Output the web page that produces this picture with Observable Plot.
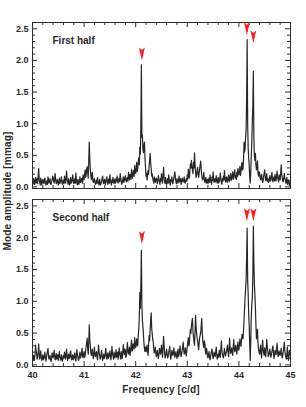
<!DOCTYPE html>
<html>
<head>
<meta charset="utf-8">
<script src="https://cdn.jsdelivr.net/npm/d3@7"></script>
<script src="https://cdn.jsdelivr.net/npm/@observablehq/plot@0.6"></script>
<style>
  html, body { margin: 0; padding: 0; background: #fff; }
  #wrap { position: relative; width: 306px; height: 407px; overflow: hidden; font-family: "Liberation Sans", Arial, sans-serif; color: #2a2a2a; }
  #p1, #p2 { position: absolute; left: 0; }
  #p1 { top: 0; }
  #p2 { top: 194px; }
  .ttl { position: absolute; white-space: nowrap; font-size: 10px; font-weight: bold; letter-spacing: 0.2px; }
  #ylab { left: 7px; top: 191px; transform: translate(-50%, -50%) rotate(-90deg); }
  #xlab { left: 161px; top: 389px; transform: translate(-50%, -50%); }
</style>
</head>
<body>
<div id="wrap">
  <div id="p1"></div>
  <div id="p2"></div>
  <div class="ttl" id="ylab">Mode amplitude [mmag]</div>
  <div class="ttl" id="xlab">Frequency [c/d]</div>
</div>
<script>
// ---- data (amplitude spectra, mmag), frequency grid 40.00 .. 45.00 c/d, step 0.01 ----
const freqStart = 40.0;
const freqStep = 0.01;

const firstHalf = [
  0.08,0.04,0.13,0.09,0.04,0.11,0.15,0.06,0.09,0.13,0.05,0.18,0.29,0.12,0.07,0.03,0.14,0.10,0.03,0.08,
  0.12,0.08,0.05,0.11,0.14,0.07,0.03,0.06,0.10,0.04,0.16,0.12,0.06,0.09,0.13,0.05,0.04,0.08,0.11,0.17,
  0.15,0.09,0.06,0.14,0.21,0.10,0.05,0.08,0.12,0.07,0.03,0.09,0.14,0.05,0.08,0.12,0.16,0.07,0.04,0.09,
  0.11,0.05,0.17,0.10,0.06,0.14,0.25,0.12,0.08,0.04,0.13,0.07,0.03,0.09,0.15,0.06,0.07,0.12,0.19,0.10,
  0.05,0.09,0.13,0.06,0.22,0.11,0.06,0.03,0.12,0.08,0.04,0.10,0.16,0.07,0.08,0.13,0.14,0.06,0.19,0.15,
  0.11,0.20,0.27,0.15,0.19,0.28,0.32,0.22,0.14,0.40,0.71,0.45,0.29,0.18,0.12,0.20,0.23,0.10,0.07,0.12,
  0.13,0.08,0.04,0.07,0.11,0.05,0.15,0.09,0.06,0.03,0.12,0.07,0.03,0.06,0.10,0.14,0.17,0.08,0.05,0.10,
  0.12,0.04,0.07,0.12,0.16,0.08,0.04,0.09,0.13,0.06,0.19,0.11,0.06,0.03,0.11,0.07,0.15,0.09,0.05,0.10,
  0.13,0.06,0.08,0.12,0.17,0.09,0.06,0.11,0.14,0.08,0.21,0.13,0.09,0.04,0.07,0.12,0.16,0.07,0.10,0.15,
  0.18,0.10,0.08,0.13,0.15,0.09,0.23,0.16,0.11,0.20,0.19,0.12,0.28,0.19,0.14,0.22,0.26,0.17,0.34,0.25,
  0.21,0.30,0.39,0.24,0.29,0.41,0.46,0.35,0.63,0.52,0.98,1.93,0.78,0.82,0.60,0.54,0.66,0.71,0.45,0.31,
  0.17,0.22,0.11,0.18,0.26,0.20,0.34,0.42,0.53,0.38,0.29,0.17,0.21,0.13,0.10,0.06,0.16,0.11,0.07,0.12,
  0.14,0.09,0.05,0.11,0.18,0.12,0.08,0.04,0.13,0.09,0.21,0.12,0.06,0.18,0.31,0.16,0.09,0.05,0.15,0.08,
  0.04,0.08,0.13,0.06,0.19,0.11,0.07,0.03,0.12,0.09,0.16,0.07,0.05,0.10,0.14,0.19,0.24,0.12,0.08,0.05,
  0.13,0.09,0.06,0.11,0.17,0.08,0.09,0.13,0.04,0.07,0.14,0.10,0.08,0.12,0.16,0.07,0.06,0.10,0.13,0.09,
  0.19,0.12,0.28,0.20,0.14,0.25,0.36,0.30,0.42,0.33,0.27,0.21,0.39,0.30,0.54,0.36,0.24,0.15,0.19,0.26,
  0.31,0.20,0.15,0.22,0.29,0.35,0.41,0.27,0.18,0.13,0.11,0.16,0.23,0.12,0.07,0.11,0.15,0.06,0.09,0.12,
  0.05,0.09,0.14,0.07,0.19,0.12,0.08,0.04,0.16,0.10,0.24,0.13,0.07,0.10,0.13,0.08,0.18,0.11,0.06,0.10,
  0.15,0.06,0.09,0.14,0.22,0.12,0.07,0.04,0.13,0.09,0.17,0.11,0.26,0.15,0.08,0.12,0.16,0.07,0.10,0.14,
  0.19,0.08,0.11,0.17,0.21,0.10,0.13,0.19,0.24,0.12,0.16,0.22,0.27,0.14,0.18,0.12,0.23,0.16,0.29,0.20,
  0.19,0.26,0.32,0.18,0.24,0.33,0.39,0.27,0.28,0.45,0.71,0.55,0.61,0.78,0.91,1.40,2.33,0.98,0.62,0.45,
  0.34,0.15,0.06,0.25,0.49,0.72,1.03,1.30,1.83,0.80,0.49,0.42,0.53,0.35,0.27,0.33,0.41,0.22,0.17,0.24,
  0.23,0.15,0.11,0.16,0.20,0.12,0.07,0.10,0.17,0.22,0.27,0.15,0.10,0.14,0.21,0.09,0.13,0.07,0.08,0.14,
  0.18,0.09,0.11,0.16,0.23,0.12,0.08,0.13,0.16,0.10,0.20,0.14,0.09,0.17,0.25,0.15,0.12,0.08,0.19,0.13,
  0.11,0.22,0.35,0.20,0.15,0.09,0.08,0.14,0.21,0.13,0.12,0.06,0.10,0.15,0.04,0.08,0.11,0.05,0.02,0.06,
  0.12
];

const secondHalf = [
  0.05,0.10,0.15,0.07,0.08,0.19,0.31,0.22,0.17,0.09,0.11,0.20,0.33,0.18,0.09,0.14,0.22,0.12,0.07,0.11,
  0.16,0.08,0.10,0.15,0.20,0.11,0.06,0.12,0.17,0.21,0.26,0.14,0.09,0.13,0.15,0.08,0.05,0.12,0.19,0.14,
  0.11,0.17,0.23,0.12,0.08,0.13,0.18,0.09,0.12,0.16,0.07,0.14,0.21,0.13,0.10,0.07,0.16,0.11,0.06,0.10,
  0.15,0.11,0.20,0.13,0.09,0.17,0.25,0.14,0.07,0.12,0.17,0.10,0.11,0.18,0.22,0.12,0.08,0.13,0.16,0.08,
  0.10,0.15,0.19,0.10,0.06,0.14,0.24,0.16,0.12,0.07,0.09,0.15,0.20,0.11,0.13,0.19,0.26,0.15,0.11,0.17,
  0.21,0.12,0.14,0.22,0.29,0.36,0.42,0.25,0.17,0.35,0.63,0.40,0.31,0.20,0.15,0.19,0.25,0.14,0.10,0.18,
  0.28,0.17,0.13,0.18,0.21,0.12,0.08,0.19,0.31,0.20,0.16,0.09,0.11,0.17,0.23,0.13,0.07,0.12,0.17,0.10,
  0.12,0.19,0.26,0.14,0.09,0.15,0.19,0.10,0.13,0.18,0.22,0.12,0.08,0.17,0.29,0.18,0.14,0.09,0.20,0.13,
  0.11,0.18,0.24,0.12,0.15,0.20,0.09,0.16,0.27,0.19,0.13,0.09,0.21,0.14,0.10,0.22,0.32,0.20,0.16,0.25,
  0.23,0.12,0.14,0.26,0.35,0.21,0.17,0.24,0.28,0.15,0.20,0.31,0.39,0.22,0.23,0.33,0.31,0.25,0.43,0.32,
  0.27,0.36,0.41,0.30,0.31,0.48,0.56,0.75,1.14,0.89,1.25,1.80,0.93,0.70,0.61,0.48,0.34,0.25,0.21,0.28,
  0.21,0.26,0.31,0.20,0.15,0.30,0.46,0.38,0.55,0.70,0.82,0.58,0.49,0.40,0.36,0.25,0.19,0.23,0.28,0.18,
  0.13,0.18,0.23,0.14,0.10,0.17,0.26,0.20,0.17,0.24,0.31,0.19,0.12,0.28,0.45,0.30,0.19,0.11,0.14,0.20,
  0.25,0.16,0.11,0.14,0.20,0.24,0.29,0.17,0.09,0.15,0.23,0.18,0.15,0.21,0.27,0.16,0.12,0.18,0.21,0.14,
  0.10,0.18,0.25,0.13,0.16,0.23,0.30,0.19,0.13,0.18,0.22,0.29,0.36,0.24,0.17,0.21,0.27,0.19,0.14,0.22,
  0.29,0.36,0.43,0.30,0.34,0.47,0.56,0.50,0.61,0.68,0.73,0.52,0.44,0.36,0.31,0.52,0.78,0.60,0.49,0.42,
  0.39,0.30,0.24,0.35,0.43,0.47,0.51,0.62,0.73,0.50,0.39,0.31,0.27,0.38,0.34,0.22,0.17,0.26,0.23,0.15,
  0.11,0.16,0.21,0.13,0.08,0.12,0.18,0.22,0.25,0.15,0.10,0.14,0.20,0.15,0.13,0.20,0.28,0.17,0.09,0.12,
  0.17,0.12,0.23,0.17,0.12,0.25,0.38,0.24,0.17,0.13,0.11,0.18,0.26,0.19,0.14,0.18,0.21,0.27,0.31,0.20,
  0.13,0.25,0.42,0.26,0.18,0.22,0.27,0.19,0.15,0.28,0.40,0.27,0.21,0.25,0.31,0.22,0.17,0.26,0.36,0.27,
  0.23,0.32,0.41,0.33,0.29,0.39,0.48,0.45,0.41,0.55,0.72,0.90,1.06,1.20,1.34,1.70,2.15,1.32,1.10,0.80,
  0.61,0.30,0.07,0.40,0.75,0.95,1.05,1.40,2.18,1.60,1.27,1.10,0.90,0.62,0.41,0.48,0.56,0.36,0.24,0.20,
  0.17,0.24,0.31,0.18,0.11,0.26,0.39,0.25,0.19,0.15,0.27,0.19,0.13,0.26,0.40,0.28,0.21,0.13,0.15,0.20,
  0.25,0.17,0.12,0.16,0.21,0.26,0.30,0.18,0.10,0.16,0.23,0.19,0.16,0.25,0.34,0.20,0.13,0.17,0.22,0.16,
  0.15,0.20,0.26,0.17,0.11,0.15,0.21,0.28,0.36,0.22,0.17,0.12,0.09,0.18,0.28,0.14,0.07,0.13,0.23,0.18,
  0.15
];

// marked modes (arrow tip positions: frequency, amplitude)
const arrowFreqs = [42.12, 44.155, 44.28];
const arrowTipsFirst = [2.00, 2.40, 2.27];
const arrowTipsSecond = [1.90, 2.26, 2.26];

// panel labels and ticks
const panelLabels = ["First half", "Second half"];
const xMajor = [40, 41, 42, 43, 44, 45];
const yMajor = [0.0, 0.5, 1.0, 1.5, 2.0, 2.5];
const xMinor = d3.range(40.2, 45, 0.2).map(v => +v.toFixed(2)).filter(v => !xMajor.includes(v) && v < 45);
const yMinor = d3.range(0.1, 2.6, 0.1).map(v => +v.toFixed(2)).filter(v => !yMajor.some(m => Math.abs(m - v) < 1e-9) && v < 2.6);

const toRows = vals => vals.map((a, i) => ({f: freqStart + i * freqStep, a}));

// downward notched arrowhead, tip at the anchor point
const arrowSymbol = {
  draw(ctx, size) {
    const r = Math.sqrt(size / Math.PI);
    const h = 2 * r, w = 0.46 * r, n = 1.6 * r;
    ctx.moveTo(0, 0);
    ctx.lineTo(-w, -h);
    ctx.lineTo(0, -n);
    ctx.lineTo(w, -h);
    ctx.closePath();
  }
};

const W = 306, ML = 32, MR = 16;
const innerW = W - ML - MR;
const ink = "#2e2e2e";

function panel({vals, label, tips, height, marginTop, marginBottom, showX}) {
  const innerH = height - marginTop - marginBottom;
  const arrows = arrowFreqs.map((f, i) => ({f, a: tips[i]}));
  const major = 5, minor = 3;
  return Plot.plot({
    width: W, height, marginLeft: ML, marginRight: MR, marginTop, marginBottom,
    x: {domain: [40, 45], axis: null},
    y: {domain: [-0.025, 2.6], axis: null},
    style: {fontFamily: "'Liberation Sans', Arial, sans-serif", fontSize: "9px", fontWeight: "bold", color: "#2a2a2a", background: "white", overflow: "hidden"},
    marks: [
      Plot.line(toRows(vals), {x: "f", y: "a", stroke: "#262626", strokeWidth: 1.2}),
      // inward ticks on all four sides
      Plot.tickY(yMajor, {y: d => d, stroke: ink, insetRight: innerW - major}),
      Plot.tickY(yMajor, {y: d => d, stroke: ink, insetLeft: innerW - major}),
      Plot.tickY(yMinor, {y: d => d, stroke: ink, insetRight: innerW - minor}),
      Plot.tickY(yMinor, {y: d => d, stroke: ink, insetLeft: innerW - minor}),
      Plot.tickX(xMajor, {x: d => d, stroke: ink, insetBottom: innerH - major}),
      Plot.tickX(xMajor, {x: d => d, stroke: ink, insetTop: innerH - major}),
      Plot.tickX(xMinor, {x: d => d, stroke: ink, insetBottom: innerH - minor}),
      Plot.tickX(xMinor, {x: d => d, stroke: ink, insetTop: innerH - minor}),
      Plot.frame({stroke: ink, strokeWidth: 1}),
      Plot.axisY({ticks: yMajor, tickSize: 0, tickPadding: 4, tickFormat: d3.format(".1f"), label: null}),
      showX ? Plot.axisX({ticks: xMajor, tickSize: 0, tickPadding: 5, tickFormat: d => String(d), label: null}) : null,
      Plot.text([label], {text: d => d, frameAnchor: "top-left", dx: 20, dy: 14, textAnchor: "start", fontSize: 10, fontWeight: "bold", fill: "#2a2a2a"}),
      Plot.dot(arrows, {x: "f", y: "a", symbol: arrowSymbol, r: 6.5, fill: "#ff1f1f", stroke: "none"})
    ]
  });
}

document.getElementById("p1").append(panel({
  vals: firstHalf, label: panelLabels[0], tips: arrowTipsFirst,
  height: 194, marginTop: 22, marginBottom: 6, showX: false
}));
document.getElementById("p2").append(panel({
  vals: secondHalf, label: panelLabels[1], tips: arrowTipsSecond,
  height: 213, marginTop: 5, marginBottom: 41, showX: true
}));
</script>
</body>
</html>
